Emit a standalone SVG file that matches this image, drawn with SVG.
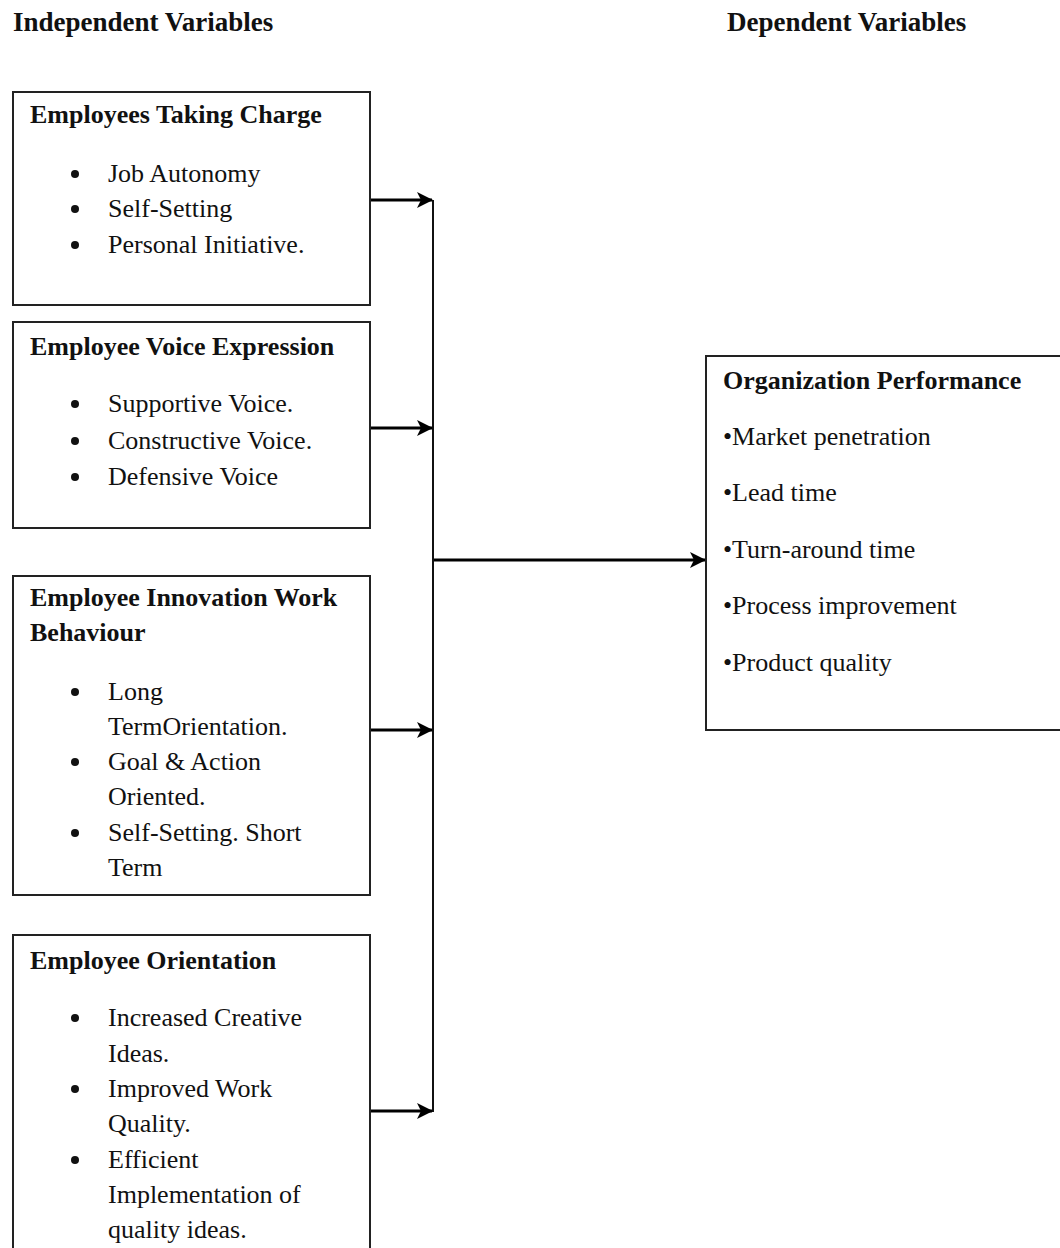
<svg xmlns="http://www.w3.org/2000/svg" width="1060" height="1248" viewBox="0 0 1060 1248">
<style>
text{font-family:"Liberation Serif","Times New Roman",serif;font-size:26px;fill:#111}
.b{font-weight:bold}
.h{font-size:27px}
.box{fill:#fff;stroke:#222;stroke-width:2}
.ln{stroke:#000;stroke-width:3;fill:none}
.vl{stroke:#111;stroke-width:2;fill:none}
.dot{fill:#111}
</style>
<defs>
<marker id="ah" markerWidth="18" markerHeight="18" refX="16" refY="9" orient="auto" markerUnits="userSpaceOnUse">
<path d="M1,1 L17,9 L1,17 L5,9 z" fill="#000"/>
</marker>
</defs>
<rect width="1060" height="1248" fill="#fff"/>
<text class="b h" x="13" y="31">Independent Variables</text>
<text class="b h" x="727" y="31">Dependent Variables</text>

<g id="connectors">
<line class="vl" x1="433" y1="200" x2="433" y2="1112"/>
<line class="ln" x1="371" y1="200" x2="432" y2="200" marker-end="url(#ah)"/>
<line class="ln" x1="371" y1="428" x2="432" y2="428" marker-end="url(#ah)"/>
<line class="ln" x1="371" y1="730" x2="432" y2="730" marker-end="url(#ah)"/>
<line class="ln" x1="371" y1="1111" x2="432" y2="1111" marker-end="url(#ah)"/>
<line class="ln" x1="434" y1="560" x2="705" y2="560" marker-end="url(#ah)"/>
</g>

<g id="node-taking-charge">
<rect class="box" x="13" y="92" width="357" height="213"/>
<text class="b" x="30" y="123">Employees Taking Charge</text>
<circle class="dot" cx="75" cy="174" r="4"/><text x="108" y="182">Job Autonomy</text>
<circle class="dot" cx="75" cy="209" r="4"/><text x="108" y="217">Self-Setting</text>
<circle class="dot" cx="75" cy="245" r="4"/><text x="108" y="253">Personal Initiative.</text>
</g>

<g id="node-voice">
<rect class="box" x="13" y="322" width="357" height="206"/>
<text class="b" x="30" y="355">Employee Voice Expression</text>
<circle class="dot" cx="75" cy="404" r="4"/><text x="108" y="412">Supportive Voice.</text>
<circle class="dot" cx="75" cy="441" r="4"/><text x="108" y="449">Constructive Voice.</text>
<circle class="dot" cx="75" cy="477" r="4"/><text x="108" y="485">Defensive Voice</text>
</g>

<g id="node-innovation">
<rect class="box" x="13" y="576" width="357" height="319"/>
<text class="b" x="30" y="606">Employee Innovation Work</text>
<text class="b" x="30" y="641">Behaviour</text>
<circle class="dot" cx="75" cy="692" r="4"/><text x="108" y="700">Long</text>
<text x="108" y="735">TermOrientation.</text>
<circle class="dot" cx="75" cy="762" r="4"/><text x="108" y="770">Goal &amp; Action</text>
<text x="108" y="805">Oriented.</text>
<circle class="dot" cx="75" cy="833" r="4"/><text x="108" y="841">Self-Setting. Short</text>
<text x="108" y="876">Term</text>
</g>

<g id="node-orientation">
<rect class="box" x="13" y="935" width="357" height="330"/>
<text class="b" x="30" y="969">Employee Orientation</text>
<circle class="dot" cx="75" cy="1018" r="4"/><text x="108" y="1026">Increased Creative</text>
<text x="108" y="1062">Ideas.</text>
<circle class="dot" cx="75" cy="1089" r="4"/><text x="108" y="1097">Improved Work</text>
<text x="108" y="1132">Quality.</text>
<circle class="dot" cx="75" cy="1160" r="4"/><text x="108" y="1168">Efficient</text>
<text x="108" y="1203">Implementation of</text>
<text x="108" y="1238">quality ideas.</text>
</g>

<g id="node-performance">
<rect class="box" x="706" y="356" width="360" height="374"/>
<text class="b" x="723" y="389">Organization Performance</text>
<text x="723" y="445">•Market penetration</text>
<text x="723" y="501">•Lead time</text>
<text x="723" y="558">•Turn-around time</text>
<text x="723" y="614">•Process improvement</text>
<text x="723" y="671">•Product quality</text>
</g>
</svg>
